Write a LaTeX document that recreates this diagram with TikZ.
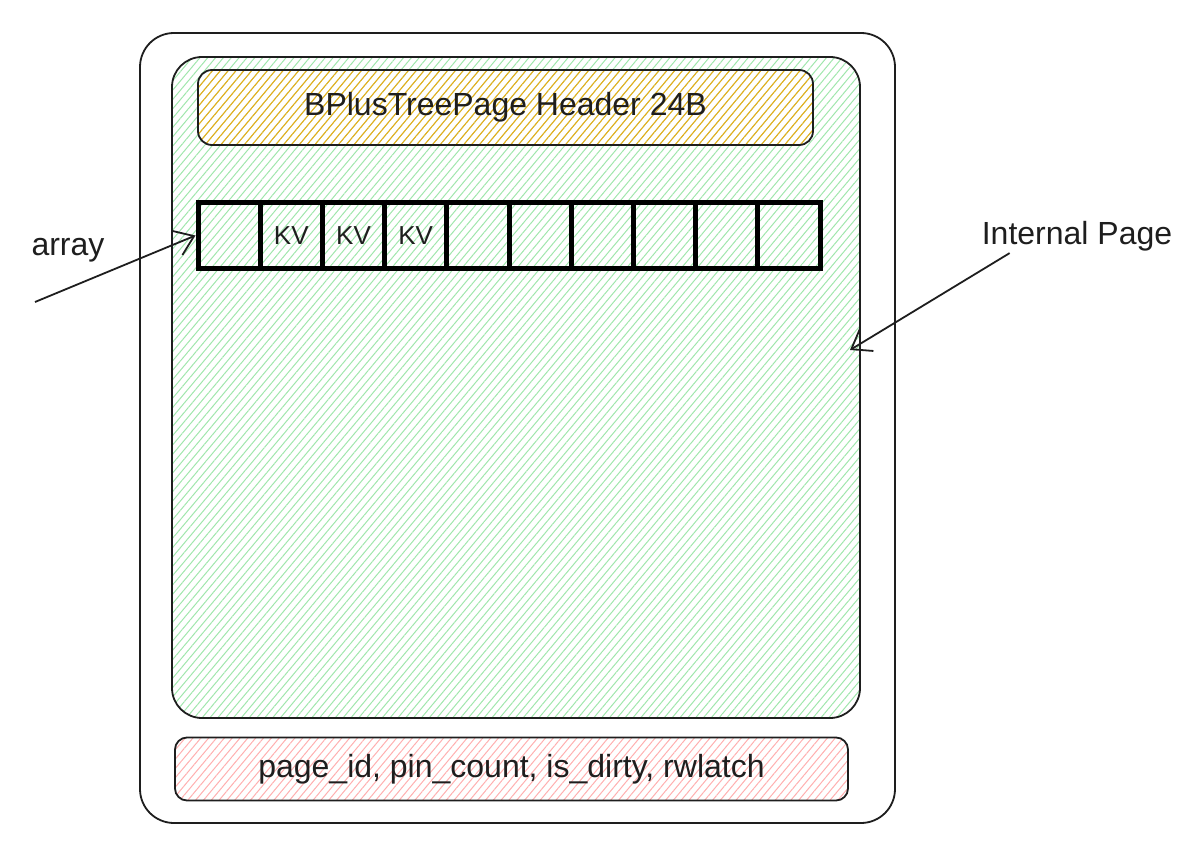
\documentclass[tikz,border=0pt]{standalone}
\usepackage{fontspec}
\setmainfont{Liberation Sans}
\usepackage{tikz}
\usetikzlibrary{arrows.meta, positioning, patterns.meta}
\definecolor{inkcolor}{RGB}{30, 30, 30}
\definecolor{pagecolor}{RGB}{160, 230, 172}
\definecolor{headercolor}{RGB}{236, 170, 20}
\definecolor{metacolor}{RGB}{255, 175, 175}

\begin{document}
\begin{tikzpicture}[x=1pt, y=-1pt,
    hatch/.style={pattern={Lines[angle=50, distance=6pt, line width=1pt]}},
    outline/.style={draw=inkcolor, line width=1.8pt},
    cell/.style={draw=black, line width=5pt, minimum width=62.2pt, minimum height=65pt, inner sep=0pt, font=\fontsize{26}{30}\selectfont, text=inkcolor},
    textlabel/.style={font=\fontsize{32}{38}\selectfont, text=inkcolor, inner sep=2pt},
    pointer/.style={-{Straight Barb[length=18pt, width=26pt]}, line width=1.8pt, draw=inkcolor}]
        \useasboundingbox (0, 0) rectangle (1203, 856);

        % Page frame and internal page area
        \node[outline, rounded corners=34pt, minimum width=755pt, minimum height=790pt] (frame) at (517.5, 428) {};
        \node[outline, hatch, pattern color=pagecolor, rounded corners=30pt, minimum width=688pt, minimum height=661pt] (area) at (516, 387.5) {};

        % Header
        \node[outline, hatch, pattern color=headercolor, rounded corners=14pt, minimum width=615pt, minimum height=75pt, textlabel] (header) at (505.5, 107.5) {BPlusTreePage Header 24B};

        % Array cells
        \foreach \i/\t in {1/{}, 2/KV, 3/KV, 4/KV, 5/{}, 6/{}, 7/{}, 8/{}, 9/{}, 10/{}}
            \node[cell] (c\i) at ({166.9+62.2*\i}, 235.5) {\t};

        % Meta data
        \node[outline, hatch, pattern color=metacolor, rounded corners=12pt, minimum width=673pt, minimum height=63pt, textlabel] (meta) at (511.5, 769) {page\_id, pin\_count, is\_dirty, rwlatch};

        % Labels
        \node[textlabel] (arraylabel) at (68, 250) {array};
        \node[textlabel] (pagelabel) at (1077, 236) {Internal Page};

        % Arrows
        \coordinate (arraytail) at (35, 302);
        \coordinate (pagetip) at (850, 350);
        \draw[pointer] (arraytail) -- (c1.west);
        \draw[pointer] ([xshift=30pt]pagelabel.south west) -- (pagetip);
    \end{tikzpicture}
\end{document}
